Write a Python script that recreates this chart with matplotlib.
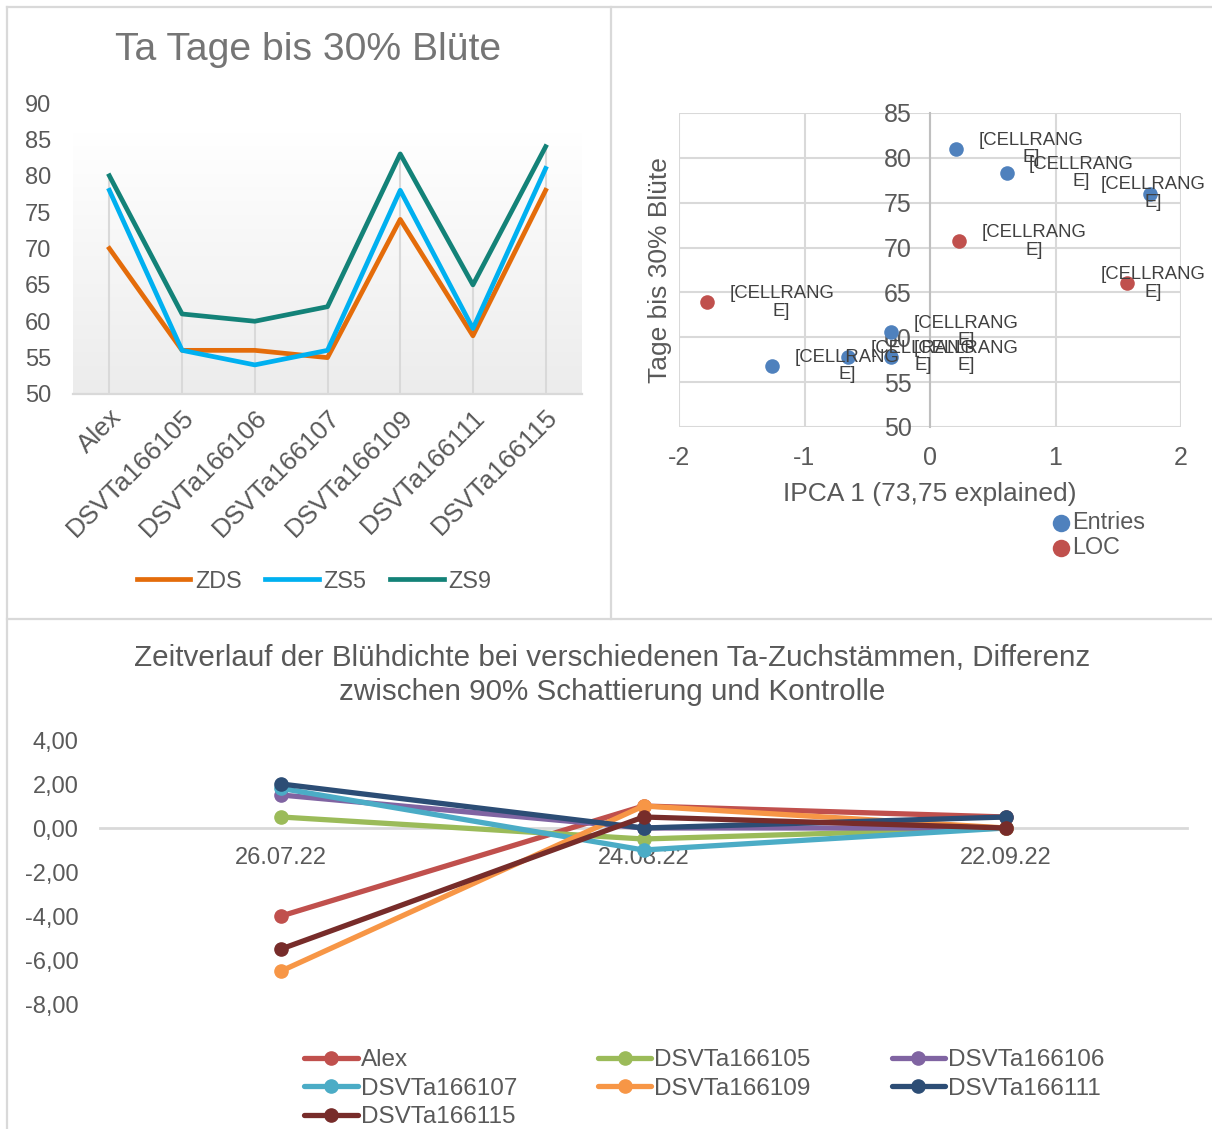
import numpy as np
import matplotlib
matplotlib.use("Agg")
import matplotlib.pyplot as plt
from matplotlib.lines import Line2D
from matplotlib.colors import LinearSegmentedColormap

plt.rcParams['font.family'] = ['Liberation Sans', 'DejaVu Sans']
plt.rcParams['axes.unicode_minus'] = False

# ---------- data: days to 30 % flowering ----------
lines_categories = ["Alex", "DSVTa166105", "DSVTa166106", "DSVTa166107",
                    "DSVTa166109", "DSVTa166111", "DSVTa166115"]
zds = [70, 56, 56, 55, 74, 58, 78]
zs5 = [78, 56, 54, 56, 78, 59, 81]
zs9 = [80, 61, 60, 62, 83, 65, 84]

# ---------- data: IPCA scatter ----------
entries_x = [0.21, 0.61, 1.75, -0.31, -0.31, -0.65, -1.26]
entries_y = [81.0, 78.3, 76.0, 60.6, 57.8, 57.8, 56.8]
loc_x = [0.23, 1.57, -1.78]
loc_y = [70.7, 66.0, 63.9]
point_label = "[CELLRANG\nE]"

# ---------- data: flowering density difference over time ----------
dates = ["26.07.22", "24.08.22", "22.09.22"]
alex = [-4.0, 1.0, 0.5]
dsv105 = [0.5, -0.5, 0.0]
dsv106 = [1.5, 0.0, 0.0]
dsv107 = [1.8, -1.0, 0.0]
dsv109 = [-6.5, 1.0, 0.0]
dsv111 = [2.0, 0.0, 0.5]
dsv115 = [-5.5, 0.5, 0.0]

W, H = 1212, 1129
fig = plt.figure(figsize=(W / 100, H / 100), dpi=100)

TXT = '#595959'
GRID = '#d9d9d9'


def fx(px):
    return px / W


def fy(py):
    return 1 - py / H


# panel frames
for (x0, y0, x1, y1) in [(7, 7, W, 7), (7, 7, 7, H), (611, 7, 611, 619), (7, 619, W, 619)]:
    fig.add_artist(Line2D([fx(x0), fx(x1)], [fy(y0), fy(y1)], color=GRID, lw=1.6,
                          transform=fig.transFigure))

# ================= top-left: line chart =================
ax1 = fig.add_axes([fx(73), fy(394), fx(582) - fx(73), fy(103) - fy(394)])
xi = np.arange(len(lines_categories))
grad = np.linspace(0, 1, 256).reshape(-1, 1)
cmap = LinearSegmentedColormap.from_list('bg', ['#ffffff', '#ececec'])
ax1.imshow(grad, extent=(-0.5, 6.5, 50, 86), aspect='auto', cmap=cmap, zorder=0,
           origin='upper')
tops = np.max([zds, zs5, zs9], axis=0)
ax1.vlines(xi, 50, tops, color=GRID, lw=1.5, zorder=1)
ax1.plot(xi, zds, color='#E46C0A', lw=3.4, label='ZDS', zorder=3)
ax1.plot(xi, zs5, color='#00B0F0', lw=3.4, label='ZS5', zorder=3)
ax1.plot(xi, zs9, color='#138278', lw=3.4, label='ZS9', zorder=3)
ax1.set_xlim(-0.5, 6.5)
ax1.set_ylim(50, 90)
ax1.set_yticks(np.arange(50, 91, 5))
for s in ['top', 'right', 'left']:
    ax1.spines[s].set_visible(False)
ax1.spines['bottom'].set_color(GRID)
ax1.spines['bottom'].set_linewidth(1.6)
ax1.tick_params(axis='both', length=0, labelsize=17, labelcolor=TXT)
ax1.tick_params(axis='y', pad=15.5)
ax1.set_xticks(xi)
ax1.set_xticklabels(lines_categories, rotation=45, ha='right', va='top',
                    rotation_mode='anchor', fontsize=18.8)
ax1.tick_params(axis='x', pad=8)
fig.text(fx(308), fy(50), "Ta Tage bis 30% Blüte", ha='center', va='center',
         fontsize=28.2, color='#757575')
fig.legend(handles=ax1.get_lines(), labels=['ZDS', 'ZS5', 'ZS9'], loc='center',
           bbox_to_anchor=(fx(314), fy(581)), ncol=3, frameon=False,
           fontsize=16.8, labelcolor=TXT, handlelength=2.3, handletextpad=0.2,
           columnspacing=1.0, borderpad=0)

# ================= top-right: scatter =================
ax2 = fig.add_axes([fx(679), fy(427), fx(1181) - fx(679), fy(113) - fy(427)])
ax2.set_xlim(-2, 2)
ax2.set_ylim(50, 85)
ax2.set_xticks(np.arange(-2, 3, 1))
ax2.set_yticks(np.arange(50, 86, 5))
ax2.grid(True, color=GRID, lw=1.5, zorder=0)
ax2.set_axisbelow(True)
for s in ['top', 'right', 'bottom']:
    ax2.spines[s].set_visible(False)
ax2.spines['left'].set_position(('data', 0))
ax2.spines['left'].set_color('#bfbfbf')
ax2.spines['left'].set_linewidth(1.5)
ax2.tick_params(axis='both', length=0, labelsize=18, labelcolor=TXT)
ax2.tick_params(axis='y', pad=13)
ax2.tick_params(axis='x', pad=14)
sc1 = ax2.scatter(entries_x, entries_y, s=110, color='#4F81BD', zorder=3,
                  linewidths=0, label='Entries')
sc2 = ax2.scatter(loc_x, loc_y, s=110, color='#C0504D', zorder=3,
                  linewidths=0, label='LOC')
for t in ax2.get_yticklabels():
    t.set_zorder(5)
ax2.set_ylabel("Tage bis 30% Blüte", fontsize=19, color=TXT)
ax2.yaxis.set_label_coords(-0.038, 0.5)
ax2.set_xlabel("IPCA 1 (73,75 explained)", fontsize=19, color=TXT)
ax2.xaxis.set_label_coords(0.5, -0.212)
ax2.xaxis.label.set_va('center')
ax2.yaxis.label.set_va('center')

right_limit = 1153
for px_, py_ in list(zip(entries_x, entries_y)) + list(zip(loc_x, loc_y)):
    dx = min(75.0, right_limit - ax2.transData.transform((px_, py_))[0])
    ax2.annotate(point_label, (px_, py_), xytext=(dx, 0), textcoords='offset pixels',
                 ha='center', va='center', multialignment='center',
                 fontsize=13.3, color='#404040', linespacing=1.05, zorder=4)

fig.legend(handles=[sc1, sc2], labels=['Entries', 'LOC'], loc='center left',
           bbox_to_anchor=(fx(1042), fy(535)), frameon=False, fontsize=16.8,
           labelcolor=TXT, handlelength=0.6, handletextpad=0.2, borderpad=0,
           labelspacing=0.1, scatterpoints=1, markerscale=1.2)

# ================= bottom: time course =================
ax3 = fig.add_axes([fx(100), fy(1004), fx(1187) - fx(100), fy(740) - fy(1004)])
series = [("Alex", alex, '#C0504D'),
          ("DSVTa166105", dsv105, '#9BBB59'),
          ("DSVTa166106", dsv106, '#8064A2'),
          ("DSVTa166107", dsv107, '#4BACC6'),
          ("DSVTa166109", dsv109, '#F79646'),
          ("DSVTa166111", dsv111, '#2C4D75'),
          ("DSVTa166115", dsv115, '#772C2A')]
xd = np.arange(len(dates))
handles = {}
for name, vals, col in series:
    ln, = ax3.plot(xd, vals, color=col, lw=3.8, marker='o', markersize=9.5,
                   label=name, zorder=3, solid_capstyle='round')
    handles[name] = ln
ax3.set_xlim(-0.5, 2.5)
ax3.set_ylim(-8, 4)
ax3.set_yticks(np.arange(-8, 5, 2))
ax3.set_yticklabels([f"{v:.2f}".replace('.', ',') for v in np.arange(-8, 5, 2)])
ax3.set_xticks(xd)
ax3.set_xticklabels(dates)
for s in ['top', 'right', 'left']:
    ax3.spines[s].set_visible(False)
ax3.spines['bottom'].set_position(('data', 0))
ax3.spines['bottom'].set_color(GRID)
ax3.spines['bottom'].set_linewidth(2)
ax3.spines['bottom'].set_zorder(1)
ax3.tick_params(axis='both', length=0, labelsize=17, labelcolor=TXT)
ax3.tick_params(axis='y', pad=15.5)
ax3.tick_params(axis='x', pad=14)
fig.text(fx(612), fy(675), "Zeitverlauf der Blühdichte bei verschiedenen Ta-Zuchstämmen, Differenz\n"
         "zwischen 90% Schattierung und Kontrolle", ha='center', va='center',
         fontsize=21.3, color=TXT, linespacing=1.3)

order = ["Alex", "DSVTa166107", "DSVTa166115", "DSVTa166105", "DSVTa166109",
         "DSVTa166106", "DSVTa166111"]
fig.legend(handles=[handles[n] for n in order], labels=order, loc='upper left',
           bbox_to_anchor=(fx(292), fy(1037)), ncol=3, frameon=False, fontsize=17.5,
           labelcolor=TXT, handlelength=2.2, handletextpad=0.12, columnspacing=3.33,
           borderpad=0, labelspacing=0.27)

fig.savefig("out.png", dpi=100, facecolor='white')
